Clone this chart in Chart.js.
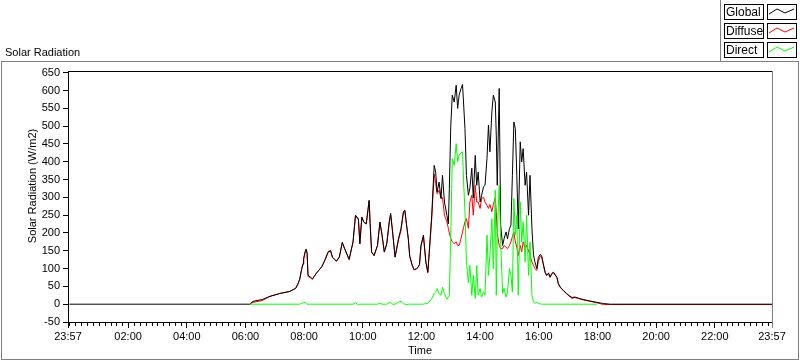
<!DOCTYPE html>
<html>
<head>
<meta charset="utf-8">
<script src="https://cdn.jsdelivr.net/npm/chart.js@4.4.0/dist/chart.umd.min.js"></script>
<style>
  body { margin: 0; background: #fff; }
  #wrap { width: 800px; height: 361px; }
</style>
</head>
<body>
<div id="wrap"><canvas id="chart" width="800" height="361"></canvas></div>
<script>
// sample times (local clock) and readings in W/m2
let times = [
  "00:00","06:09","06:15","06:34","06:50","07:10","07:31","07:43","07:47","07:51",
  "07:55","07:58","07:59","08:02","08:04","08:06","08:08","08:13","08:17","08:25",
  "08:36","08:42","08:49","08:54","08:58","09:06","09:12","09:18","09:23","09:32",
  "09:40","09:45","09:51","09:54","09:58","10:02","10:07","10:13","10:15","10:18",
  "10:23","10:30","10:35","10:39","10:44","10:49","10:54","10:57","11:01","11:06",
  "11:13","11:18","11:23","11:26","11:30","11:33","11:36","11:41","11:45","11:50",
  "11:53","11:56","11:59","12:04","12:09","12:13","12:15","12:21","12:26","12:29",
  "12:32","12:36","12:40","12:43","12:47","12:52","12:55","12:57","13:00","13:03",
  "13:07","13:11","13:14","13:17","13:21","13:24","13:26","13:29","13:32","13:36",
  "13:39","13:43","13:46","13:50","13:53","13:56","14:00","14:03","14:07","14:10",
  "14:14","14:17","14:20","14:24","14:27","14:31","14:33","14:35","14:39","14:42",
  "14:46","14:49","14:53","14:56","15:00","15:03","15:06","15:09","15:12","15:15",
  "15:18","15:22","15:25","15:28","15:32","15:35","15:39","15:42","15:46","15:49",
  "15:52","15:56","15:59","16:03","16:06","16:09","16:13","16:16","16:20","16:23",
  "16:27","16:30","16:37","16:40","16:44","16:50","16:57","17:04","17:08","17:14",
  "17:21","17:31","17:45","17:59","18:12","18:26","23:57"
];

let globalValues = [
  0, 0, 8, 13, 22, 30, 36, 45, 56, 70,
  100, 115, 129, 148, 155, 145, 81, 76, 71, 87,
  105, 123, 147, 151, 132, 121, 133, 174, 156, 126,
  175, 250, 240, 170, 245, 231, 226, 292, 227, 147,
  137, 165, 231, 198, 147, 170, 231, 255, 203, 133,
  184, 212, 259, 264, 217, 185, 135, 110, 97, 100,
  104, 112, 165, 194, 119, 90, 129, 250, 390, 371,
  315, 343, 297, 362, 287, 250, 226, 325, 503, 587,
  568, 615, 550, 587, 606, 617, 568, 493, 362, 306,
  326, 382, 298, 418, 334, 371, 287, 306, 330, 334,
  409, 503, 428, 540, 587, 568, 475, 334, 606, 222,
  165, 184, 203, 184, 212, 222, 362, 512, 493, 362,
  212, 456, 400, 437, 334, 371, 250, 362, 212, 140,
  119, 100, 131, 140, 135, 115, 90, 81, 88, 76,
  87, 90, 76, 58, 48, 39, 30, 22, 19, 20,
  17, 13, 9, 5, 2, 0, 0
];

let diffuseValues = [
  null, 0, 5, 10, 22, 30, 36, 45, 56, 70,
  98, 112, 125, 145, 152, 143, 78, 74, 70, 87,
  105, 121, 145, 150, 131, 120, 132, 172, 155, 125,
  174, 247, 238, 170, 243, 230, 225, 290, 226, 146,
  136, 164, 229, 197, 146, 169, 228, 251, 201, 132,
  180, 206, 256, 262, 217, 184, 134, 109, 96, 99,
  103, 111, 163, 192, 118, 88, 125, 240, 365, 340,
  310, 320, 297, 300, 250, 231, 213, 200, 184, 175,
  170, 175, 165, 165, 185, 203, 215, 231, 240, 213,
  287, 306, 250, 334, 287, 287, 269, 297, 300, 287,
  278, 269, 280, 260, 280, 300, 260, 200, 165, 156,
  156, 165, 160, 156, 165, 175, 190, 203, 175, 160,
  137, 165, 147, 175, 156, 165, 150, 137, 119, 109,
  100, 95, 120, 135, 133, 112, 88, 80, 86, 75,
  85, 88, 75, 57, 47, 38, 29, 21, 16, 19,
  16, 12, 8, 4, -1, -1, -1
];

let directValues = [
  null, 0, 0, 0, 0, 0, 0, 0, 0, 0,
  2, 4, 5, 5, 3, 0, 0, 0, 0, 0,
  0, 0, 0, 0, 0, 0, 0, 0, 0, 0,
  0, 4, -2, 0, 0, 0, 0, 0, 0, 0,
  0, 0, 3, 0, 0, 0, 4, 5, 0, 0,
  6, 8, 2, 0, -2, 0, 0, 0, 0, 0,
  0, 0, 0, 0, 2, 3, 5, 16, 30, 34,
  44, 30, 25, 48, 30, 14, 20, 25, 200, 409,
  390, 451, 400, 420, 425, 428, 350, 260, 120, 60,
  109, 25, 81, 16, 109, 25, 44, 20, 34, 25,
  194, 81, 137, 240, 100, 320, 25, 194, 334, 175,
  30, 44, 20, 34, 100, 81, 34, 297, 194, 250,
  25, 287, 175, 231, 119, 250, 81, 175, 25, 6,
  3, 5, 2, 1, 0, 0, 0, 0, 0, 0,
  0, 0, 0, 0, 0, 0, 0, 0, 0, 0,
  0, 0, 0, 0, null, null, null
];

let seriesNames = ["Global", "Diffuse", "Direct"];
let seriesColors = ["#000000", "#ff0000", "#00ff00"];

let yTicks = [-50, 0, 50, 100, 150, 200, 250, 300, 350, 400, 450, 500, 550, 600, 650];
// minutes from midnight; first and last are 23:57
let xTicks = [-3, 120, 240, 360, 480, 600, 720, 840, 960, 1080, 1200, 1320, 1437];

const FONT = "Liberation Sans, Arial, sans-serif";

function toMinutes(s) {
    let [h, m] = s.split(":").map(Number);
    return h * 60 + m;
}

function fmtTime(v) {
    let m = ((v % 1440) + 1440) % 1440;
    let h = Math.floor(m / 60), mm = m % 60;
    return String(h).padStart(2, "0") + ":" + String(mm).padStart(2, "0");
}

function makePoints(values) {
    return times.map((t, i) => ({ x: toMinutes(t), y: values[i] }));
}

const extrasPlugin = {
    id: "extras",
    afterDraw(chart) {
        let ctx = chart.ctx;
        let area = chart.chartArea;
        let xs = chart.scales.x;
        ctx.save();
        ctx.lineWidth = 1;

        // top and right border of plot
        ctx.strokeStyle = "#000";
        ctx.beginPath();
        ctx.moveTo(area.left, Math.round(area.top) + 0.5);
        ctx.lineTo(area.right, Math.round(area.top) + 0.5);
        ctx.stroke();
        ctx.strokeStyle = "#808080";
        ctx.beginPath();
        ctx.moveTo(Math.round(area.right) + 0.5, area.top);
        ctx.lineTo(Math.round(area.right) + 0.5, area.bottom + 6);
        ctx.stroke();

        // minor ticks every 12 minutes
        ctx.strokeStyle = "#000";
        ctx.beginPath();
        for (let m = 0; m < 1437; m += 12) {
            if (m % 120 === 0 && m > 0) continue;
            let x = Math.round(xs.getPixelForValue(m)) + 0.5;
            ctx.moveTo(x, area.bottom);
            ctx.lineTo(x, area.bottom + 4);
        }
        ctx.stroke();

        // outer frame
        ctx.strokeStyle = "#808080";
        ctx.strokeRect(1.5, 61.5, 797, 298);
        ctx.beginPath();
        ctx.moveTo(720.5, 0);
        ctx.lineTo(720.5, 61);
        ctx.stroke();

        // texts
        ctx.fillStyle = "#000";
        ctx.font = "11px " + FONT;
        ctx.textAlign = "left";
        ctx.textBaseline = "alphabetic";
        ctx.fillText("Solar Radiation", 5, 56);

        ctx.textAlign = "center";
        ctx.textBaseline = "middle";
        ctx.fillText("Time", (area.left + area.right) / 2, 351);

        ctx.save();
        ctx.translate(33, 186);
        ctx.rotate(-Math.PI / 2);
        ctx.fillText("Solar Radiation (W/m2)", 0, 0);
        ctx.restore();

        // legend
        let rowTops = [4, 23, 42];
        ctx.font = "12px " + FONT;
        ctx.textAlign = "left";
        for (let i = 0; i < seriesNames.length; i++) {
            let y0 = rowTops[i];
            ctx.fillStyle = "#fff";
            ctx.fillRect(724, y0, 39, 15);
            ctx.fillRect(767, y0, 30, 15);
            ctx.strokeStyle = "#000";
            ctx.strokeRect(724.5, y0 + 0.5, 39, 15);
            ctx.strokeRect(767.5, y0 + 0.5, 29, 15);
            ctx.fillStyle = "#000";
            ctx.fillText(seriesNames[i], 726, y0 + 8.5);
            ctx.strokeStyle = seriesColors[i];
            ctx.beginPath();
            ctx.moveTo(769, y0 + 10);
            ctx.lineTo(777, y0 + 5);
            ctx.lineTo(785, y0 + 9);
            ctx.lineTo(794, y0 + 5);
            ctx.stroke();
        }
        ctx.restore();
    }
};

let ctx = document.getElementById("chart").getContext("2d");
let chart = new Chart(ctx, {
    type: "line",
    data: {
        datasets: [
            { label: "Direct", data: makePoints(directValues), borderColor: seriesColors[2], order: 0 },
            { label: "Global", data: makePoints(globalValues), borderColor: seriesColors[0], order: 1 },
            { label: "Diffuse", data: makePoints(diffuseValues), borderColor: seriesColors[1], order: 2 }
        ]
    },
    options: {
        responsive: false,
        animation: false,
        devicePixelRatio: 1,
        elements: {
            line: { borderWidth: 1, tension: 0, fill: false },
            point: { radius: 0, hoverRadius: 0 }
        },
        layout: { padding: { left: 0, right: 28, top: 71, bottom: 0 } },
        plugins: { legend: { display: false }, tooltip: { enabled: false } },
        scales: {
            x: {
                type: "linear",
                min: -3,
                max: 1437,
                afterBuildTicks: s => { s.ticks = xTicks.map(v => ({ value: v })); },
                afterFit: s => { s.height = 39; },
                ticks: {
                    callback: v => fmtTime(v),
                    autoSkip: false,
                    maxRotation: 0,
                    padding: 2,
                    color: "#000",
                    font: { family: FONT, size: 11 }
                },
                grid: { drawOnChartArea: false, tickLength: 6, color: "#000" },
                border: { color: "#000" }
            },
            y: {
                min: -50,
                max: 655,
                afterBuildTicks: s => { s.ticks = yTicks.map(v => ({ value: v })); },
                afterFit: s => { s.width = 68; },
                ticks: {
                    padding: 3,
                    color: "#000",
                    font: { family: FONT, size: 11 }
                },
                grid: { drawOnChartArea: false, tickLength: 5, color: "#000" },
                border: { color: "#000" }
            }
        }
    },
    plugins: [extrasPlugin]
});
</script>
</body>
</html>
